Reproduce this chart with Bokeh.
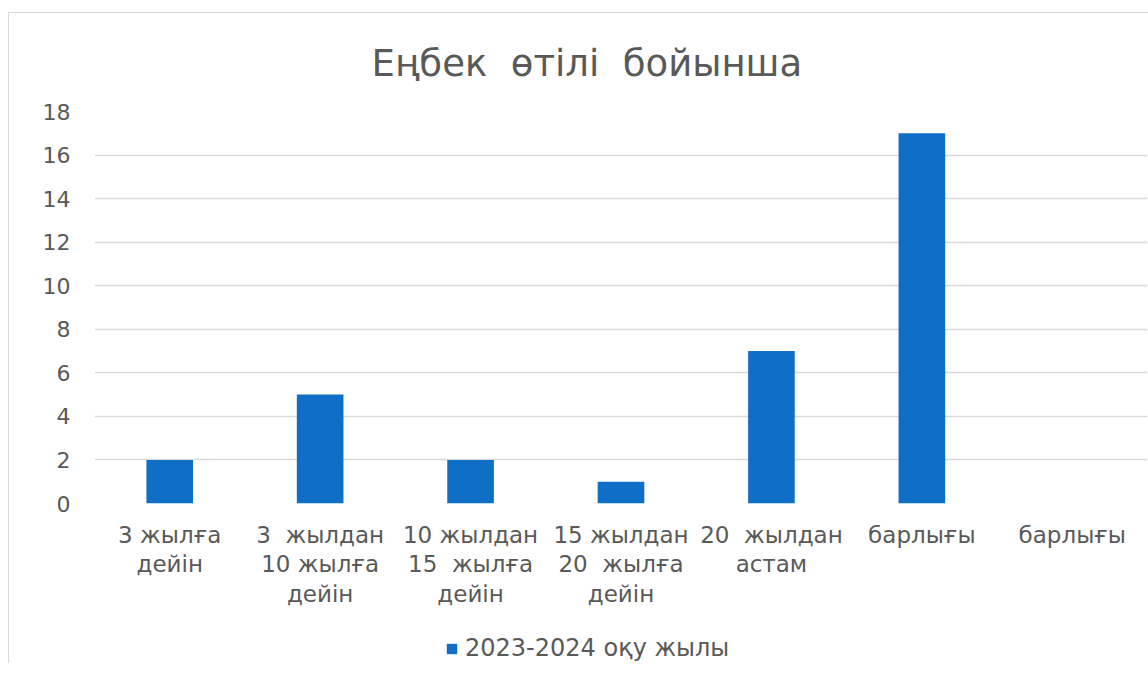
import numpy as np
from bokeh.plotting import figure
from bokeh.layouts import column
from bokeh.models import FixedTicker, Range1d, Legend, LegendItem, ColumnDataSource
from bokeh.embed import file_html
from bokeh.resources import INLINE

# ---- data ----
NB = "\u00a0"
categories = [
    "3 жылға\nдейін",
    "3" + NB + " жылдан\n10 жылға\nдейін",
    "10 жылдан\n15" + NB + " жылға\nдейін",
    "15 жылдан\n20" + NB + " жылға\nдейін",
    "20" + NB + " жылдан\nастам",
    "барлығы",
    "барлығы",
]
values = [2, 5, 2, 1, 7, 17, None]
series_name = "2023-2024 оқу жылы"
title_text = "Еңбек" + NB + " өтілі" + NB + " бойынша"
y_ticks = [0, 2, 4, 6, 8, 10, 12, 14, 16, 18]

TXT = "#595959"
GRID = "#d9d9d9"
BAR = "#0F6FC6"
FONT = "DejaVu Sans"
W = 1139

xpos = [i + 0.5 for i in range(len(categories))]
vals = [np.nan if v is None else v for v in values]
src = ColumnDataSource(dict(x=xpos, top=vals))

p = figure(width=W, height=596,
           x_range=Range1d(0, len(categories)), y_range=Range1d(0, max(y_ticks)),
           output_backend="svg", toolbar_location=None,
           min_border_left=85, min_border_right=1, min_border_top=98, min_border_bottom=10)
p.outline_line_color = None
p.background_fill_color = "white"
p.border_fill_color = "white"

r = p.vbar(x="x", top="top", width=0.31, source=src, fill_color=BAR, line_color=None)

# title
p.title.text = title_text
p.title.align = "left"
p.title.text_font = FONT
p.title.text_font_size = "37px"
p.title.text_font_style = "normal"
p.title.text_color = TXT
p.title.offset = 277
p.title.standoff = 53

# axes
p.xaxis.ticker = FixedTicker(ticks=xpos)
p.xaxis.major_label_overrides = {x: c for x, c in zip(xpos, categories)}
p.yaxis.ticker = FixedTicker(ticks=y_ticks)
for ax in (p.xaxis, p.yaxis):
    ax.axis_line_color = None
    ax.major_tick_line_color = None
    ax.minor_tick_line_color = None
    ax.major_tick_out = 0
    ax.major_tick_in = 0
    ax.major_label_text_font = FONT
    ax.major_label_text_color = TXT
p.xaxis.major_label_text_font_size = "23px"
p.yaxis.major_label_text_font_size = "22px"
p.xaxis.major_label_text_line_height = 1.14
p.xaxis.major_label_standoff = 18
p.yaxis.major_label_standoff = 24

p.xgrid.grid_line_color = None
p.ygrid.grid_line_color = GRID
p.ygrid.grid_line_width = 1.5

# legend strip below the chart
lf = figure(width=W, height=54, x_range=Range1d(0, len(categories)), y_range=Range1d(100, 101),
            output_backend="svg", toolbar_location=None,
            min_border_left=0, min_border_right=0, min_border_top=0, min_border_bottom=0)
lf.axis.visible = False
lf.grid.visible = False
lf.outline_line_color = None
lf.background_fill_color = "white"
lf.border_fill_color = "white"
lr = lf.vbar(x="x", top="top", width=0.31, source=src, fill_color=BAR, line_color=None)
legend = Legend(items=[LegendItem(label=series_name, renderers=[lr])],
                orientation="horizontal", location=(351, 1),
                label_text_font=FONT, label_text_font_size="24px", label_text_color=TXT,
                glyph_width=13, glyph_height=13, label_standoff=7,
                border_line_color=None, background_fill_alpha=0,
                padding=4, margin=0)
lf.add_layout(legend, "center")

layout = column(p, lf, spacing=0,
                styles={"border-top": "1px solid #d9d9d9", "border-left": "1px solid #d9d9d9",
                        "margin-top": "12px", "margin-left": "8px"})

open("out.html", "w").write(file_html(layout, INLINE))
